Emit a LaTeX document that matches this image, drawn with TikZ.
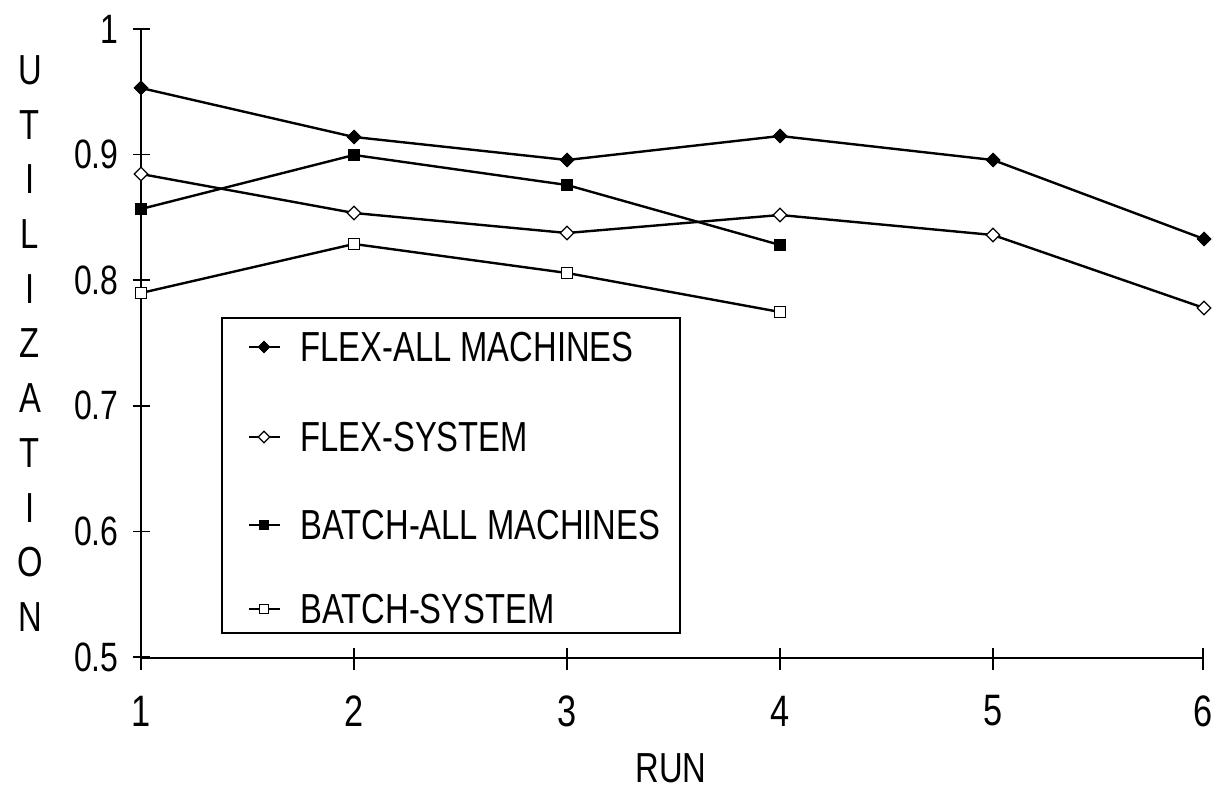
\documentclass[tikz,border=0pt]{standalone}
\usepackage{fontspec}
\setmainfont[FakeStretch=0.78]{Liberation Sans}
\usetikzlibrary{shapes.geometric}
\begin{document}
\begin{tikzpicture}[x=0.5pt,y=-0.5pt,
  lbl/.style={font=\fontsize{20.5}{24}\selectfont, inner sep=0pt},
  xlbl/.style={font=\fontsize{22}{26}\selectfont, inner sep=0pt},
  biglbl/.style={font=\fontsize{21}{25}\selectfont, inner sep=0pt},
  dataline/.style={line width=1.2pt},
  axisline/.style={line width=1pt},
  tickline/.style={line width=0.8pt},
  mfa/.style={diamond, fill=black, draw=black, line width=0.5pt, minimum size=7pt, inner sep=0pt},
  mfs/.style={diamond, fill=white, draw=black, line width=0.6pt, minimum size=7pt, inner sep=0pt},
  mba/.style={rectangle, fill=black, draw=black, minimum size=5.5pt, inner sep=0pt},
  mbs/.style={rectangle, fill=white, draw=black, line width=0.6pt, minimum size=5.5pt, inner sep=0pt},
  legbox/.style={draw, line width=1pt, inner sep=0pt, anchor=north west},
  legline/.style={line width=0.7pt}
]
\useasboundingbox (0,0) rectangle (1221,791);

% axes
\coordinate (ytop) at (141,29);
\coordinate (orig) at (141,658);
\coordinate (xend) at (1203,658);
\draw[axisline] (ytop) -- (orig) -- (xend);

% y ticks and labels
\foreach \yy/\t/\n in {29/1/a, 154.6/0.9/b, 280.2/0.8/c, 405.8/0.7/d, 531.4/0.6/e, 657/0.5/f}{
  \draw[tickline] (133,\yy) -- (150,\yy);
  \node[lbl, anchor=east] (yl\n) at (119,\yy) {\t};
}
% x ticks and labels
\foreach \xx/\t in {141/1, 354/2, 567/3, 780/4, 993/5, 1203/6}{
  \draw[tickline] (\xx,648) -- (\xx,670);
  \node[xlbl] (xl\t) at (\xx,711) {\t};
}

% axis titles
\foreach \c [count=\k from 0] in {U,T,I,L,I,Z,A,T,I,O,N}{
  \node[biglbl] (yt\k) at (30,{70+54.7*\k}) {\c};
}
\node[biglbl] (xtitle) at (671,768) {RUN};

% data coordinates
\coordinate (fa1) at (141,88);  \coordinate (fa2) at (354,137); \coordinate (fa3) at (567,160);
\coordinate (fa4) at (780,136); \coordinate (fa5) at (993,160); \coordinate (fa6) at (1204,239);
\coordinate (fs1) at (141,174); \coordinate (fs2) at (354,213); \coordinate (fs3) at (567,233);
\coordinate (fs4) at (780,215); \coordinate (fs5) at (993,235); \coordinate (fs6) at (1204,308);
\coordinate (ba1) at (141,209); \coordinate (ba2) at (354,155); \coordinate (ba3) at (567,185);
\coordinate (ba4) at (780,245);
\coordinate (bs1) at (141,293); \coordinate (bs2) at (354,244); \coordinate (bs3) at (567,273);
\coordinate (bs4) at (780,312);

% lines
\draw[dataline] (fa1) -- (fa2) -- (fa3) -- (fa4) -- (fa5) -- (fa6);
\draw[dataline] (fs1) -- (fs2) -- (fs3) -- (fs4) -- (fs5) -- (fs6);
\draw[dataline] (ba1) -- (ba2) -- (ba3) -- (ba4);
\draw[dataline] (bs1) -- (bs2) -- (bs3) -- (bs4);

% markers
\foreach \i in {1,...,6}{
  \node[mfa] (mfa\i) at (fa\i) {};
  \node[mfs] (mfs\i) at (fs\i) {};
}
\foreach \i in {1,...,4}{
  \node[mba] (mba\i) at (ba\i) {};
  \node[mbs] (mbs\i) at (bs\i) {};
}

% legend
\node[legbox, minimum width=229pt, minimum height=157.5pt] (legend) at (221,317) {};
\foreach \yy/\sty/\txt/\n in {347/mfa/FLEX-ALL MACHINES/1, 437/mfs/FLEX-SYSTEM/2, 525/mba/BATCH-ALL MACHINES/3, 609/mbs/BATCH-SYSTEM/4}{
  \coordinate (lga\n) at (249,\yy);
  \coordinate (lgb\n) at (280,\yy);
  \draw[legline] (lga\n) -- (lgb\n);
  \node[\sty, scale=0.85] (lgm\n) at (264,\yy) {};
  \node[biglbl, anchor=west] (lgt\n) at (300,\yy) {\txt};
}
\end{tikzpicture}
\end{document}
